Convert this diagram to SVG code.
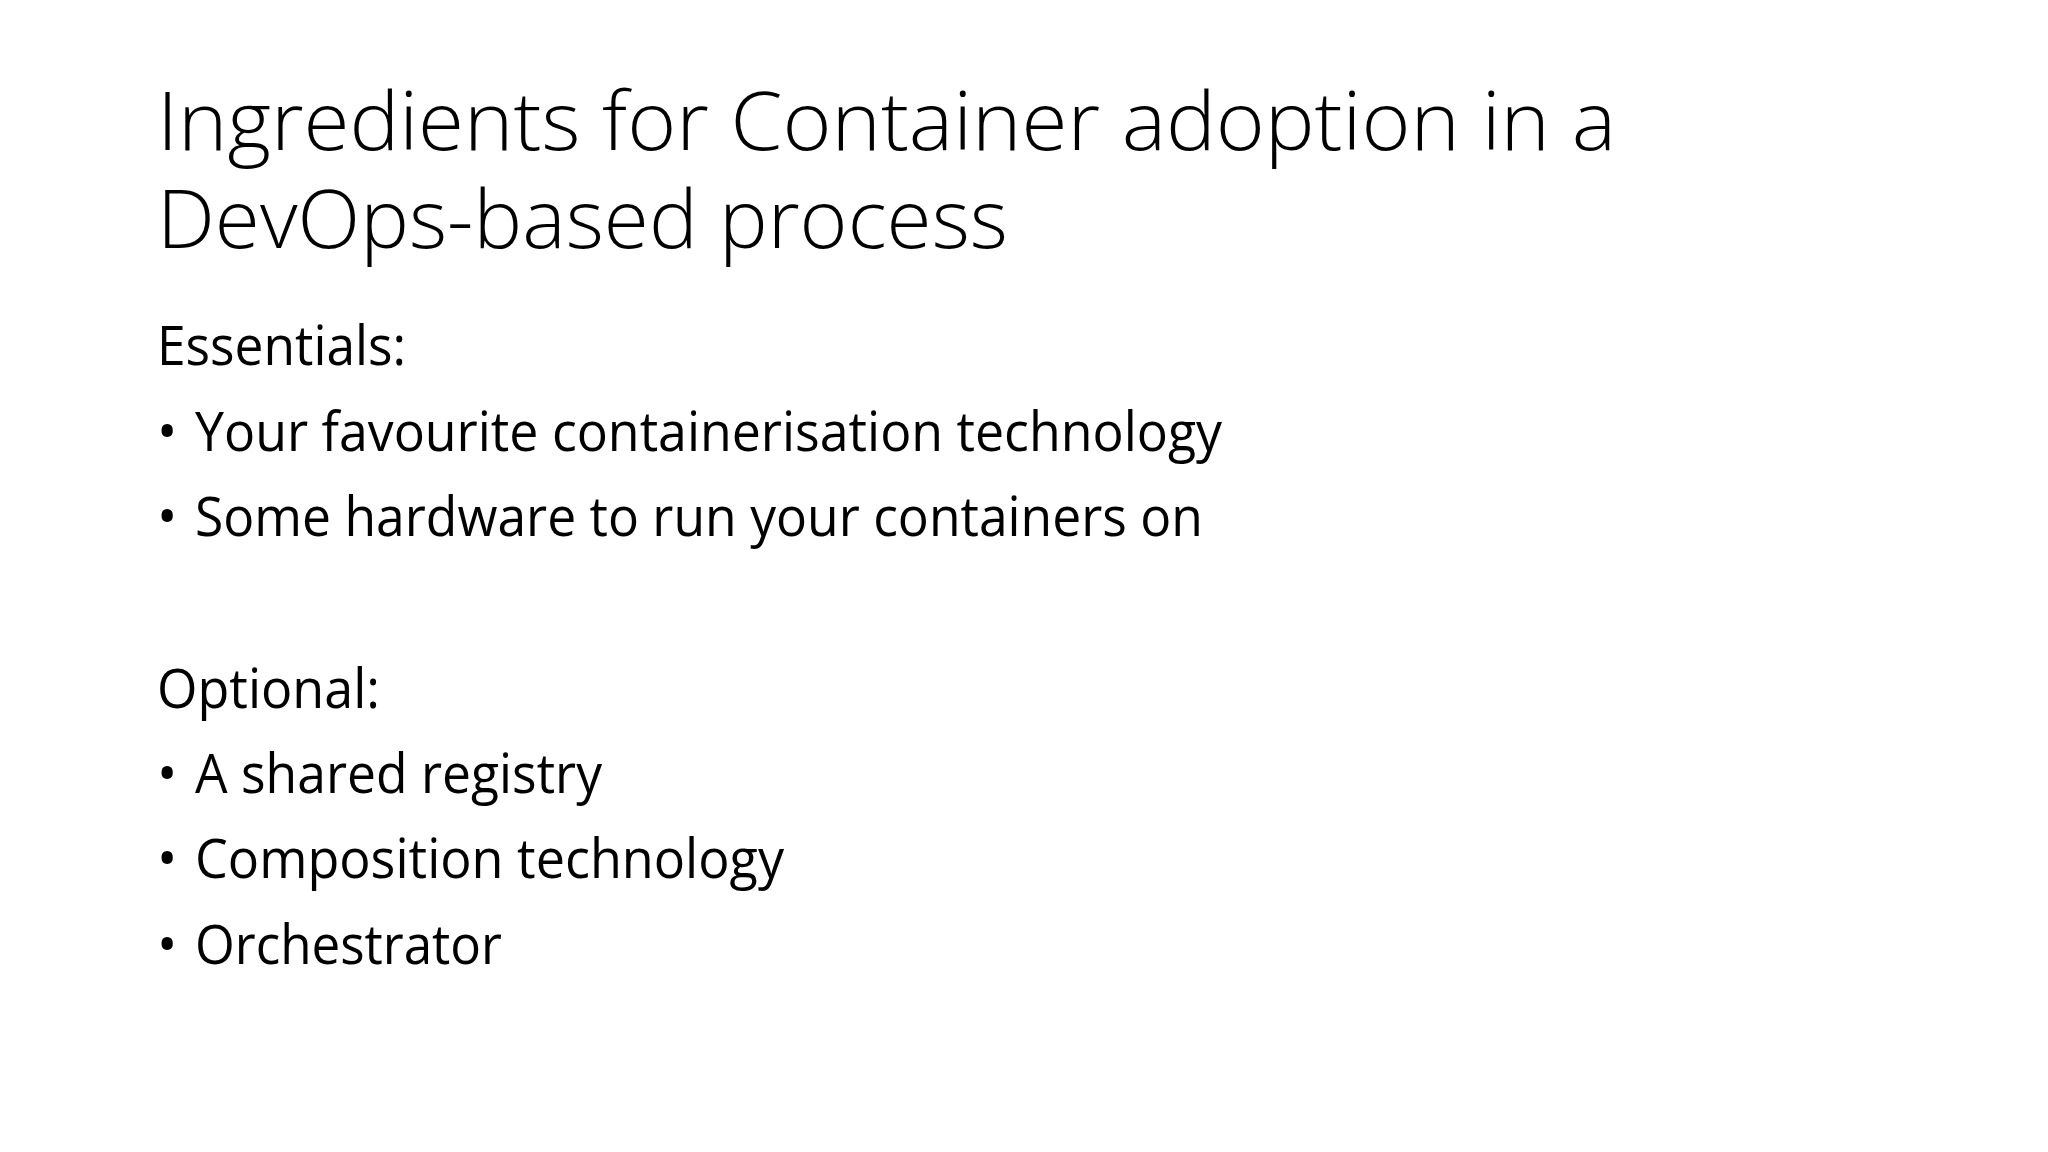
<svg xmlns="http://www.w3.org/2000/svg" width="2048" height="1152" viewBox="0 0 2048 1152">
<style>
.t{font-family:"Open Sans","Liberation Sans",sans-serif;font-weight:300;font-size:82px;fill:#000}
.b{font-family:"Open Sans","Liberation Sans",sans-serif;font-size:54px;fill:#000}
</style>
<rect width="2048" height="1152" fill="#fff"/>
<g id="title">
<text class="t" x="157" y="150" textLength="1459" lengthAdjust="spacingAndGlyphs">Ingredients for Container adoption in a</text>
<text class="t" x="157" y="248" textLength="851" lengthAdjust="spacingAndGlyphs">DevOps-based process</text>
</g>
<g id="body">
<text class="b" x="157" y="365" textLength="249" lengthAdjust="spacingAndGlyphs">Essentials:</text>
<text class="b" x="157" y="451">•</text><text class="b" x="195" y="451" textLength="1027" lengthAdjust="spacingAndGlyphs">Your favourite containerisation technology</text>
<text class="b" x="157" y="536">•</text><text class="b" x="195" y="536" textLength="1008" lengthAdjust="spacingAndGlyphs">Some hardware to run your containers on</text>
<text class="b" x="157" y="708" textLength="223" lengthAdjust="spacingAndGlyphs">Optional:</text>
<text class="b" x="157" y="793">•</text><text class="b" x="195" y="793" textLength="407" lengthAdjust="spacingAndGlyphs">A shared registry</text>
<text class="b" x="157" y="878">•</text><text class="b" x="195" y="878" textLength="589" lengthAdjust="spacingAndGlyphs">Composition technology</text>
<text class="b" x="157" y="964">•</text><text class="b" x="195" y="964" textLength="307" lengthAdjust="spacingAndGlyphs">Orchestrator</text>
</g>
</svg>
